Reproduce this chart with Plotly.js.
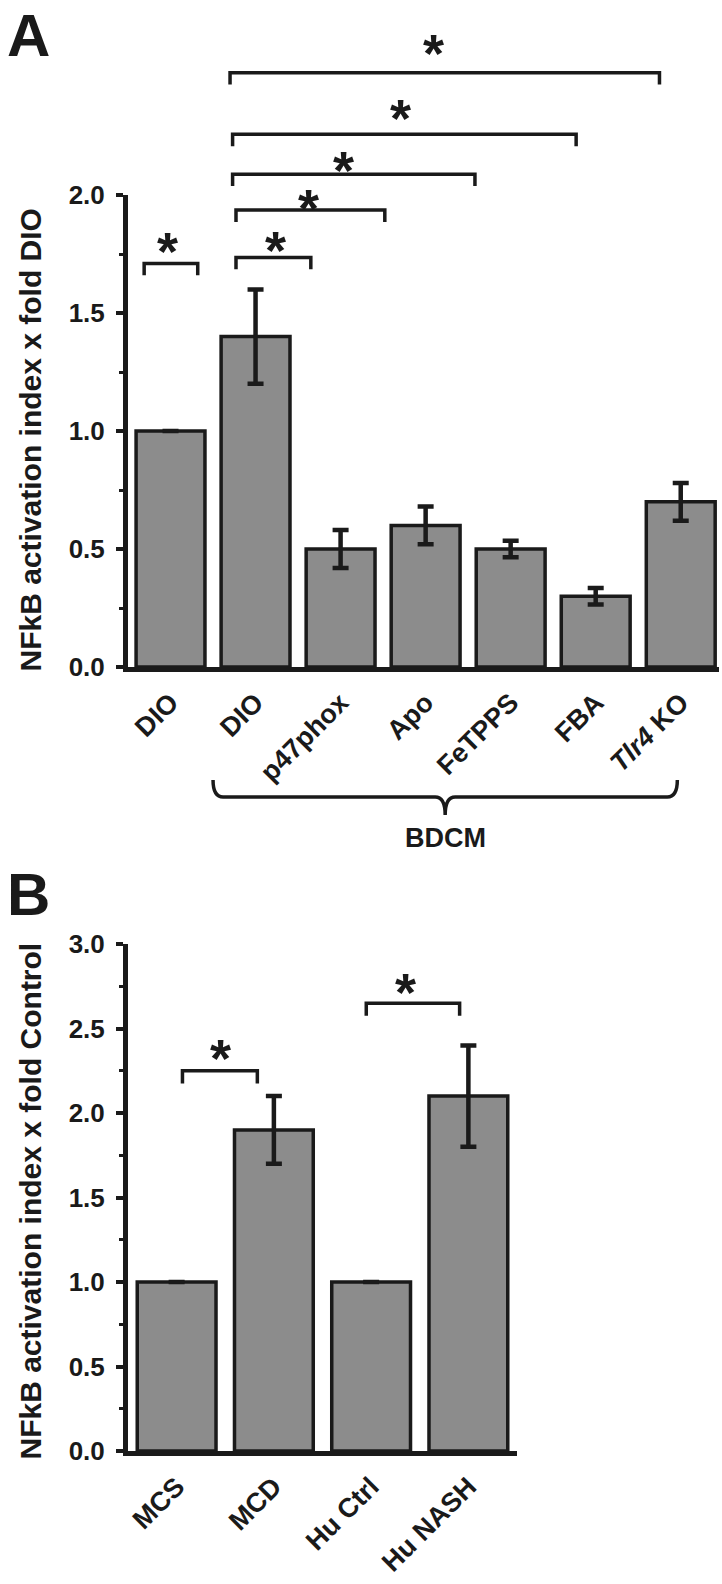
<!DOCTYPE html>
<html>
<head>
<meta charset="utf-8">
<script src="https://cdn.plot.ly/plotly-3.0.1.min.js"></script>
<style>body{margin:0;background:#fff}</style>
</head>
<body>
<div id="chart" style="width:722px;height:1584px"></div>
<script>
// panel A: NFkB activation, fold DIO
var labelsA = ['DIO', 'DIO', 'p47phox', 'Apo', 'FeTPPS', 'FBA', '<i>Tlr4</i> KO'];
var valuesA = [1.0, 1.4, 0.5, 0.6, 0.5, 0.3, 0.7];
var errorsA = [null, 0.2, 0.08, 0.08, 0.035, 0.035, 0.08];

// panel B: NFkB activation, fold control
var labelsB = ['MCS', 'MCD', 'Hu Ctrl', 'Hu NASH'];
var valuesB = [1.0, 1.9, 1.0, 2.1];
var errorsB = [null, 0.2, null, 0.3];

// significance brackets: category span, bracket height, star position
var sigA = [
  {x0: -0.31, x1: 0.32, y: 1.71, sx: -0.03, sy: 1.805},
  {x0: 0.77, x1: 1.65, y: 1.735, sx: 1.24, sy: 1.81},
  {x0: 0.77, x1: 2.52, y: 1.936, sx: 1.62, sy: 1.986},
  {x0: 0.73, x1: 3.58, y: 2.088, sx: 2.04, sy: 2.148},
  {x0: 0.73, x1: 4.77, y: 2.257, sx: 2.70, sy: 2.367},
  {x0: 0.70, x1: 5.75, y: 2.518, sx: 3.09, sy: 2.643}
];
var sigB = [
  {x0: 0.06, x1: 0.83, y: 2.25, sx: 0.45, sy: 2.385},
  {x0: 1.95, x1: 2.91, y: 2.65, sx: 2.35, sy: 2.777}
];

var W = 722, H = 1584;
var ink = '#1a1a1a';
var xRangeA = [-0.5, 6.45], yRangeA = [0, 2];
var xRangeB = [-0.5, 3.5], yRangeB = [0, 3];
var domXA = [128 / W, 719 / W], domYA = [1 - 667 / H, 1 - 195 / H];
var domXB = [128 / W, 517 / W], domYB = [1 - 1451 / H, 1 - 944 / H];

function idx(arr) { return arr.map(function (d, i) { return i; }); }
function xd(r, c) { return (c - r[0]) / (r[1] - r[0]); }
function yd(r, v) { return (v - r[0]) / (r[1] - r[0]); }

function barTrace(vals, errs, xa, ya) {
  return {
    type: 'bar',
    x: idx(vals),
    y: vals,
    xaxis: xa, yaxis: ya,
    marker: {color: '#8c8c8c', line: {color: ink, width: 3.5}},
    error_y: {type: 'data', array: errs, visible: true, color: ink, thickness: 4.5, width: 8},
    hoverinfo: 'none'
  };
}

var data = [
  barTrace(valuesA, errorsA, 'x', 'y'),
  barTrace(valuesB, errorsB, 'x2', 'y2')
];

var sans = 'Liberation Sans, Arial, sans-serif';
var tickFont = {family: sans, size: 26, color: ink, weight: 'bold'};
var catFont = {family: sans, size: 27, color: ink, weight: 'bold'};

function yAxis(r, dom, anchor) {
  return {
    domain: dom, range: r, anchor: anchor,
    showgrid: false, zeroline: false,
    showline: true, linecolor: ink, linewidth: 5,
    ticks: 'outside', ticklen: 7, tickwidth: 4, tickcolor: ink,
    dtick: 0.5, tickformat: '.1f', tickfont: tickFont, ticklabelstandoff: 6,
    minor: {dtick: 0.25, ticks: 'outside', ticklen: 4, tickwidth: 3, tickcolor: ink}
  };
}
function xAxis(r, dom, anchor, labels) {
  return {
    domain: dom, range: r, anchor: anchor,
    showgrid: false, zeroline: false,
    showline: true, linecolor: ink, linewidth: 5,
    ticks: '', tickmode: 'array', tickvals: idx(labels), ticktext: labels,
    tickangle: -45, tickfont: catFont, ticklabelstandoff: 4
  };
}

var shapes = [], annotations = [];
function addSig(list, xa, ya, xr, yr) {
  list.forEach(function (s) {
    var drop = 0.05 * (yr[1] - yr[0]) / 2;
    var a = xd(xr, s.x0), b = xd(xr, s.x1), top = yd(yr, s.y), low = yd(yr, s.y - drop);
    shapes.push({
      type: 'path', xref: xa + ' domain', yref: ya + ' domain',
      path: 'M' + a + ',' + low + ' L' + a + ',' + top + ' L' + b + ',' + top + ' L' + b + ',' + low,
      line: {color: ink, width: 3.5}
    });
    annotations.push({
      xref: xa + ' domain', yref: ya + ' domain', x: xd(xr, s.sx), y: yd(yr, s.sy),
      text: '*', showarrow: false, xanchor: 'center', yanchor: 'middle', yshift: -10,
      font: {family: sans, size: 54, color: ink, weight: 'bold'}
    });
  });
}
addSig(sigA, 'x', 'y', xRangeA, yRangeA);
addSig(sigB, 'x2', 'y2', xRangeB, yRangeB);

// curly brace under the BDCM groups
(function () {
  var l = xd(xRangeA, 0.5), r = xd(xRangeA, 5.96), c = xd(xRangeA, 3.23);
  var d = 10 / (domXA[1] - domXA[0]) / W;
  var y0 = 1 - 780 / H, y1 = 1 - 797 / H, y2 = 1 - 815 / H;
  shapes.push({
    type: 'path', xref: 'x domain', yref: 'paper',
    path: 'M' + l + ',' + y0 + ' Q' + l + ',' + y1 + ' ' + (l + d) + ',' + y1 +
      ' L' + (c - d) + ',' + y1 + ' Q' + c + ',' + y1 + ' ' + c + ',' + y2 +
      ' Q' + c + ',' + y1 + ' ' + (c + d) + ',' + y1 +
      ' L' + (r - d) + ',' + y1 + ' Q' + r + ',' + y1 + ' ' + r + ',' + y0,
    line: {color: ink, width: 3.5}
  });
  annotations.push({
    xref: 'x domain', yref: 'paper', x: c, y: 1 - 838 / H, text: 'BDCM', showarrow: false,
    xanchor: 'center', yanchor: 'middle', font: {family: sans, size: 27, color: ink, weight: 'bold'}
  });
})();

var titleFont = {family: sans, size: 30, color: ink, weight: 'bold'};
var letterFont = {family: sans, size: 60, color: ink, weight: 'bold'};
annotations.push(
  {xref: 'paper', yref: 'paper', x: 29.5 / W, y: 1 - 440 / H, text: 'NFkB activation index x fold DIO',
    textangle: -90, showarrow: false, xanchor: 'center', yanchor: 'middle', font: titleFont},
  {xref: 'paper', yref: 'paper', x: 29.5 / W, y: 1 - 1201 / H, text: 'NFkB activation index x fold Control',
    textangle: -90, showarrow: false, xanchor: 'center', yanchor: 'middle', font: titleFont},
  {xref: 'paper', yref: 'paper', x: 5 / W, y: 1, text: 'A', xanchor: 'left', yanchor: 'top',
    showarrow: false, font: letterFont},
  {xref: 'paper', yref: 'paper', x: 5 / W, y: 1 - 859 / H, text: 'B', xanchor: 'left', yanchor: 'top',
    showarrow: false, font: letterFont}
);

var layout = {
  width: W, height: H,
  margin: {l: 0, r: 0, t: 0, b: 0},
  paper_bgcolor: '#fff', plot_bgcolor: '#fff',
  showlegend: false, bargap: 0.19,
  xaxis: xAxis(xRangeA, domXA, 'y', labelsA),
  yaxis: yAxis(yRangeA, domYA, 'x'),
  xaxis2: xAxis(xRangeB, domXB, 'y2', labelsB),
  yaxis2: yAxis(yRangeB, domYB, 'x2'),
  shapes: shapes,
  annotations: annotations
};

Plotly.newPlot('chart', data, layout, {staticPlot: true});
</script>
</body>
</html>
